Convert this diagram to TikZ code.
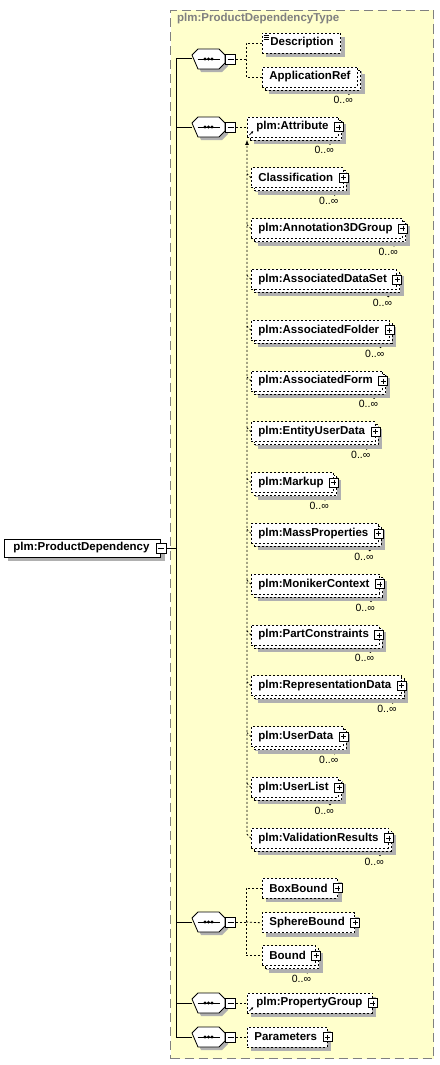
\documentclass[tikz,border=0pt]{standalone}
\usepackage{fontspec}
\setmainfont{Liberation Sans}
\usepackage{xcolor}
\usepackage{tikz}
\usetikzlibrary{positioning}
\usetikzlibrary{shadows}
\usetikzlibrary{arrows.meta}
\definecolor{schemayellow}{RGB}{255,255,204}
\definecolor{shadowgray}{RGB}{176,176,176}
\definecolor{framegray}{RGB}{128,128,128}
\newcommand{\octpath}[1]{([shift={(-16.5pt,4pt)}]#1) -- ++(6pt,6pt) -- ++(21pt,0pt) -- ++(6pt,-6pt) -- ++(0pt,-8pt) -- ++(-6pt,-6pt) -- ++(-21pt,0pt) -- cycle}

\begin{document}
\begin{tikzpicture}[x=1pt, y=-1pt, font=\fontsize{11.5}{13}\selectfont\bfseries]
    % Styles:
    \tikzset{conn/.style={dash pattern=on 2pt off 2pt, line width=0.8pt}}
    \tikzset{trunk/.style={line width=1pt}}
    \tikzset{typeframe/.style={draw=framegray, fill=schemayellow, dash pattern=on 9pt off 5pt, line width=1pt, inner sep=0pt}}
    \tikzset{typetitle/.style={text=framegray, inner sep=1pt}}
    \tikzset{elbox/.style={draw, dash pattern=on 2pt off 2pt, line width=0.8pt, fill=white, minimum height=20pt, inner ysep=0pt, inner xsep=7pt, anchor=west,
        general shadow={fill=shadowgray, shadow xshift=4pt, shadow yshift=-4pt}}}
    \tikzset{mainel/.style={draw, solid, line width=0.8pt, fill=white, minimum height=18pt, inner ysep=0pt, inner xsep=9pt, anchor=west,
        execute at end node=\hspace*{2pt},
        general shadow={fill=shadowgray, shadow xshift=4pt, shadow yshift=-4pt}}}
    \tikzset{multi/.style={general shadow={fill=shadowgray, shadow xshift=7pt, shadow yshift=-7pt},
        general shadow={draw=black, dash pattern=on 2pt off 2pt, line width=0.8pt, fill=white, shadow xshift=3pt, shadow yshift=-3pt},
        label={[occurs]south east:0..∞},
        append after command={\pgfextra{\let\mn\tikzlastnode
            \fill[white] ([xshift=-13pt,yshift=-3pt]\mn.south east) -- ++(4pt,-4pt) -- ++(4pt,4pt) -- cycle;
            \draw[solid, line width=0.8pt] ([xshift=-13pt,yshift=-3pt]\mn.south east) -- ++(4pt,-4pt) -- ++(4pt,4pt);}}}}
    \tikzset{occurs/.style={font=\fontsize{10.5}{12}\selectfont\mdseries, inner sep=0pt, anchor=north east, xshift=-5pt, yshift=-9pt}}
    \tikzset{plusel/.style={execute at end node=\hspace*{3pt}}}
    \tikzset{refel/.style={execute at begin node=\hspace*{2pt},
        path picture={\draw[solid, line width=0.8pt, -{Latex[length=2.5pt,width=2.5pt]}] ([shift={(2pt,2pt)}]path picture bounding box.south west) -- ++(4pt,4pt);}}}
    \tikzset{docel/.style={path picture={\draw[solid, line width=0.6pt]
        ([shift={(1.5pt,-2pt)}]path picture bounding box.north west) -- ++(5pt,0pt)
        ([shift={(1.5pt,-4pt)}]path picture bounding box.north west) -- ++(5pt,0pt)
        ([shift={(1.5pt,-6pt)}]path picture bounding box.north west) -- ++(5pt,0pt);}}}
    \tikzset{plusbox/.style={draw, solid, fill=white, line width=0.7pt, minimum size=9pt, inner sep=0pt,
        path picture={\draw ([xshift=2pt]path picture bounding box.west) -- ([xshift=-2pt]path picture bounding box.east)
            ([yshift=-2pt]path picture bounding box.north) -- ([yshift=2pt]path picture bounding box.south);}}}
    \tikzset{minusbox/.style={draw, solid, fill=white, line width=0.7pt, minimum size=10pt, inner sep=0pt,
        path picture={\draw ([xshift=2pt]path picture bounding box.west) -- ([xshift=-2pt]path picture bounding box.east);}}}
    \tikzset{seqbox/.style={minimum width=33pt, minimum height=20pt, inner sep=0pt,
        append after command={\pgfextra{\let\sn\tikzlastnode
            \fill[shadowgray, transform canvas={shift={(3pt,-3pt)}}] \octpath{\sn.center};
            \filldraw[fill=white, draw=black, solid, line width=0.8pt] \octpath{\sn.center};
            \draw[solid, line width=0.8pt] ([xshift=-11pt]\sn.center) -- ([xshift=11pt]\sn.center);
            \fill ([xshift=-3.5pt]\sn.center) circle (1.6pt) (\sn.center) circle (1.6pt) ([xshift=3.5pt]\sn.center) circle (1.6pt);}}}}

    \useasboundingbox (0,0) rectangle (439,1065);

    % Type frame:
    \node[typeframe, minimum width=263pt, minimum height=1048pt, anchor=north west] (frame) at (170,10) {};
    \node[typetitle, anchor=west] (title) at (176,19) {plm:ProductDependencyType};

    % Main element:
    \node[mainel] (pd) at (4,548) {plm:ProductDependency};
    \node[minusbox] (pdm) at (pd.east) {};
    \coordinate (trunk) at (176,0);

    % Sequences:
    \node[seqbox] (seqdesc) at (208.5,59) {};
    \node[minusbox, right=0pt of seqdesc] (mdesc) {};
    \node[seqbox] (seqattr) at (208.5,127) {};
    \node[minusbox, right=0pt of seqattr] (mattr) {};
    \node[seqbox] (seqbound) at (208.5,922) {};
    \node[minusbox, right=0pt of seqbound] (mbound) {};
    \node[seqbox] (seqprop) at (208.5,1003) {};
    \node[minusbox, right=0pt of seqprop] (mprop) {};
    \node[seqbox] (seqparam) at (208.5,1037) {};
    \node[minusbox, right=0pt of seqparam] (mparam) {};

    % First sequence:
    \node[elbox, docel, execute at begin node=\hspace*{1pt}] (desc) at (262,43) {Description};
    \node[elbox, multi] (appref) at (262,77) {ApplicationRef};
    \coordinate (fork1) at (246,59);

    % Attribute column:
    \node[elbox, multi, plusel, refel] (attr) at (247,127) {plm:Attribute};
    \node[elbox, multi, plusel] (classif) [below=30pt of attr.south west, anchor=north west, xshift=4pt] {Classification};
    \node[elbox, multi, plusel] (annot) [below=30pt of classif.south west, anchor=north west] {plm:Annotation3DGroup};
    \node[elbox, multi, plusel] (dataset) [below=30pt of annot.south west, anchor=north west] {plm:AssociatedDataSet};
    \node[elbox, multi, plusel] (folder) [below=30pt of dataset.south west, anchor=north west] {plm:AssociatedFolder};
    \node[elbox, multi, plusel] (form) [below=30pt of folder.south west, anchor=north west] {plm:AssociatedForm};
    \node[elbox, multi, plusel] (entity) [below=30pt of form.south west, anchor=north west] {plm:EntityUserData};
    \node[elbox, multi, plusel] (markup) [below=30pt of entity.south west, anchor=north west] {plm:Markup};
    \node[elbox, multi, plusel] (mass) [below=30pt of markup.south west, anchor=north west] {plm:MassProperties};
    \node[elbox, multi, plusel] (moniker) [below=30pt of mass.south west, anchor=north west] {plm:MonikerContext};
    \node[elbox, multi, plusel] (partc) [below=30pt of moniker.south west, anchor=north west] {plm:PartConstraints};
    \node[elbox, multi, plusel] (repr) [below=30pt of partc.south west, anchor=north west] {plm:RepresentationData};
    \node[elbox, multi, plusel] (userd) [below=30pt of repr.south west, anchor=north west] {plm:UserData};
    \node[elbox, multi, plusel] (userl) [below=30pt of userd.south west, anchor=north west] {plm:UserList};
    \node[elbox, multi, plusel] (valres) [below=30pt of userl.south west, anchor=north west] {plm:ValidationResults};
    \coordinate (col) at ([yshift=-2.5pt]attr.south west);

    % Bounds:
    \node[elbox, plusel] (boxb) at (262,888) {BoxBound};
    \node[elbox, plusel] (sphere) [below=14pt of boxb.south west, anchor=north west] {SphereBound};
    \node[elbox, multi, plusel] (bound) [below=12pt of sphere.south west, anchor=north west] {Bound};
    \coordinate (fork3) at (246,922);

    % Last two:
    \node[elbox, plusel, refel] (propg) at (247,1003) {plm:PropertyGroup};
    \node[elbox, plusel] (params) at (247,1037) {Parameters};

    % Plus boxes:
    \node[plusbox] at (attr.east) {};
    \node[plusbox] at (classif.east) {};
    \node[plusbox] at (annot.east) {};
    \node[plusbox] at (dataset.east) {};
    \node[plusbox] at (folder.east) {};
    \node[plusbox] at (form.east) {};
    \node[plusbox] at (entity.east) {};
    \node[plusbox] at (markup.east) {};
    \node[plusbox] at (mass.east) {};
    \node[plusbox] at (moniker.east) {};
    \node[plusbox] at (partc.east) {};
    \node[plusbox] at (repr.east) {};
    \node[plusbox] at (userd.east) {};
    \node[plusbox] at (userl.east) {};
    \node[plusbox] at (valres.east) {};
    \node[plusbox] at (boxb.east) {};
    \node[plusbox] at (sphere.east) {};
    \node[plusbox] at (bound.east) {};
    \node[plusbox] at (propg.east) {};
    \node[plusbox] at (params.east) {};

    % Connectors:
    \draw[trunk] (pdm.east) -- (pdm.east -| trunk);
    \draw[trunk] (seqdesc.west) -- (seqdesc.west -| trunk) -- (seqparam.west -| trunk) -- (seqparam.west);
    \draw[trunk] (seqattr.west) -- (seqattr.west -| trunk);
    \draw[trunk] (seqbound.west) -- (seqbound.west -| trunk);
    \draw[trunk] (seqprop.west) -- (seqprop.west -| trunk);
    \draw[conn] (mdesc.east) -- (fork1);
    \draw[conn] (desc.west) -| (fork1) |- (appref.west);
    \draw[conn] (mattr.east) -- (attr.west);
    \draw[conn, -{Latex[length=5pt,width=4pt]}] (valres.west) -- ++(-4pt,4pt) -- (col);
    \draw[conn] (classif.west) -- ++(-4pt,4pt)
        (annot.west) -- ++(-4pt,4pt)
        (dataset.west) -- ++(-4pt,4pt)
        (folder.west) -- ++(-4pt,4pt)
        (form.west) -- ++(-4pt,4pt)
        (entity.west) -- ++(-4pt,4pt)
        (markup.west) -- ++(-4pt,4pt)
        (mass.west) -- ++(-4pt,4pt)
        (moniker.west) -- ++(-4pt,4pt)
        (partc.west) -- ++(-4pt,4pt)
        (repr.west) -- ++(-4pt,4pt)
        (userd.west) -- ++(-4pt,4pt)
        (userl.west) -- ++(-4pt,4pt);
    \draw[conn] (mbound.east) -- (fork3);
    \draw[conn] (boxb.west) -| (fork3) |- (bound.west);
    \draw[conn] (fork3) -- (sphere.west);
    \draw[conn] (mprop.east) -- (propg.west);
    \draw[conn] (mparam.east) -- (params.west);
\end{tikzpicture}
\end{document}
